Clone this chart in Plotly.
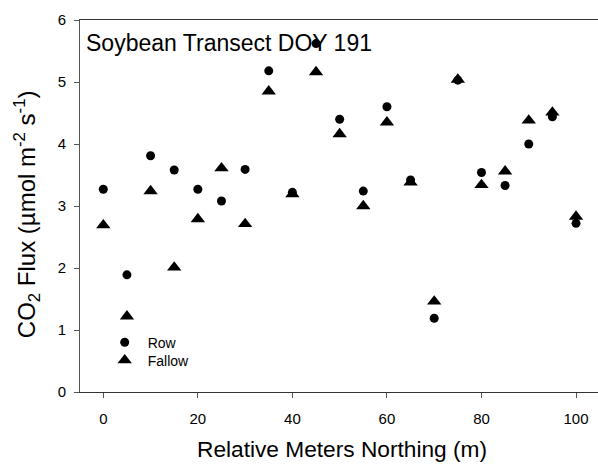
import plotly.graph_objects as go

northing = [0, 5, 10, 15, 20, 25, 30, 35, 40, 45, 50, 55, 60, 65, 70, 75, 80, 85, 90, 95, 100]
row_flux = [3.27, 1.89, 3.81, 3.58, 3.27, 3.08, 3.59, 5.18, 3.22, 5.62, 4.40, 3.24, 4.60, 3.42, 1.19, 5.03, 3.54, 3.33, 4.00, 4.44, 2.72]
fallow_flux = [2.69, 1.22, 3.24, 2.01, 2.79, 3.61, 2.71, 4.85, 3.19, 5.16, 4.16, 3.00, 4.35, 3.38, 1.46, 5.04, 3.34, 3.56, 4.38, 4.51, 2.83]

x_ticks = [0, 20, 40, 60, 80, 100]
y_ticks = [0, 1, 2, 3, 4, 5, 6]

FONT = "Liberation Sans, Arial, sans-serif"

fig = go.Figure()
fig.add_trace(go.Scatter(
    x=northing, y=row_flux, mode="markers", name="Row", legend="legend",
    marker=dict(symbol="circle", size=9, color="black", line=dict(width=0)),
))
fig.add_trace(go.Scatter(
    x=northing, y=fallow_flux, mode="markers", name="Fallow", legend="legend2",
    marker=dict(symbol="triangle-up", size=12.5, color="black", line=dict(width=0)),
))

leg_common = dict(
    xanchor="left", yanchor="top",
    bgcolor="rgba(0,0,0,0)", borderwidth=0,
    font=dict(size=14, family=FONT, color="black"),
    itemwidth=36, tracegroupgap=0,
)

fig.update_layout(
    width=598, height=465,
    margin=dict(l=80, r=0, t=20, b=73),
    paper_bgcolor="white", plot_bgcolor="white",
    font=dict(family=FONT, color="black"),
    showlegend=True,
    legend=dict(x=0.0419, y=0.1758, **leg_common),
    legend2=dict(x=0.0419, y=0.1274, **leg_common),
    xaxis=dict(
        range=[-4.93, 104.65], tickvals=x_ticks, ticktext=[str(v) for v in x_ticks],
        showgrid=False, zeroline=False,
        showline=True, linecolor="#333", linewidth=1, mirror=True,
        ticks="outside", ticklen=5, tickcolor="#555", tickwidth=1,
        ticklabelstandoff=8,
        tickfont=dict(size=15, family=FONT, color="black"),
    ),
    yaxis=dict(
        range=[0, 6], tickvals=y_ticks, ticktext=[str(v) for v in y_ticks],
        showgrid=False, zeroline=False,
        showline=True, linecolor="#555", linewidth=1,
        ticks="outside", ticklen=5, tickcolor="#555", tickwidth=1,
        ticklabelstandoff=5,
        tickfont=dict(size=15, family=FONT, color="black"),
    ),
    annotations=[
        dict(
            text="Soybean Transect DOY 191", x=0.0077, y=0.978, xref="paper", yref="paper",
            xanchor="left", yanchor="top", showarrow=False,
            font=dict(size=23, family=FONT, color="black"),
        ),
        dict(
            text="Relative Meters Northing (m)", x=0.5058, y=-0.153, xref="paper", yref="paper",
            xanchor="center", yanchor="middle", showarrow=False,
            font=dict(size=22.7, family=FONT, color="black"),
        ),
        dict(
            text="CO<sub>2</sub> Flux (µmol m<sup>-2</sup> s<sup>-1</sup>)",
            x=-0.1023, y=0.478, xref="paper", yref="paper", textangle=-90,
            xanchor="center", yanchor="middle", showarrow=False,
            font=dict(size=24, family=FONT, color="black"),
        ),
    ],
)

fig.write_html("out.html")
